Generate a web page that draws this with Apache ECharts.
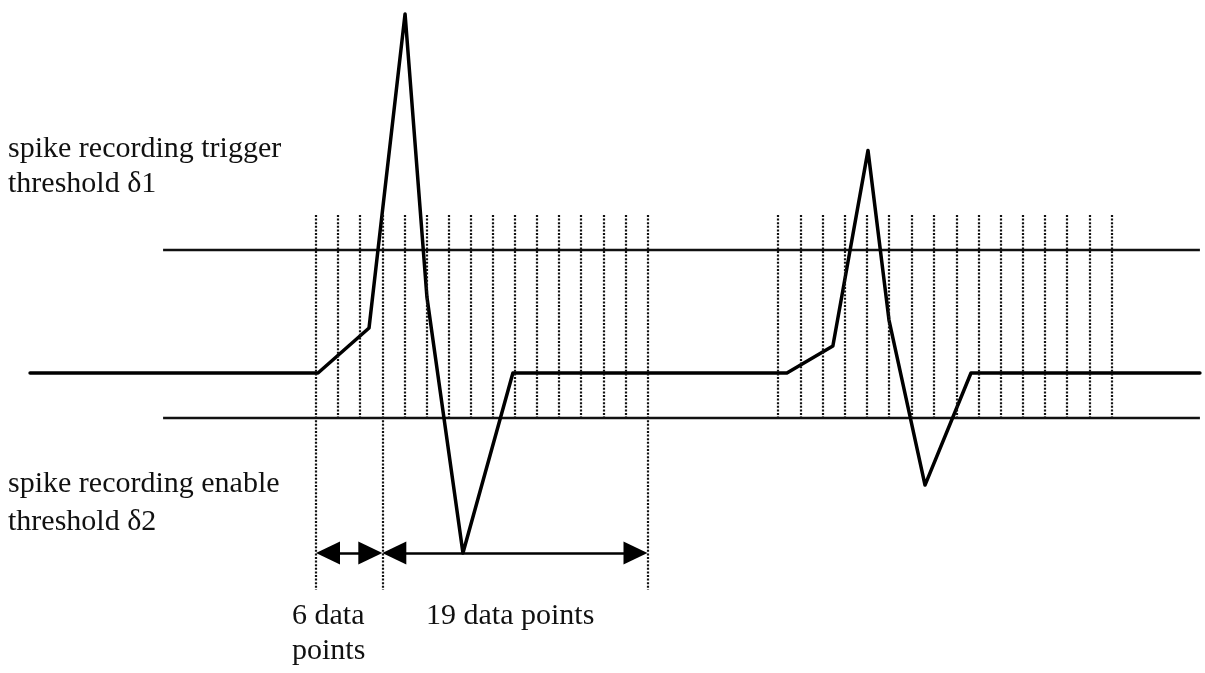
<!DOCTYPE html>
<html>
<head>
<meta charset="utf-8">
<script src="https://cdn.jsdelivr.net/npm/echarts@6/dist/echarts.min.js"></script>
<style>
html,body{margin:0;padding:0;background:#fff;}
#chart{width:1205px;height:673px;}
</style>
</head>
<body>
<div id="chart"></div>
<script>
// ---- data (time in dotted-line units, amplitude in arbitrary units; baseline = 0) ----
const signalT = [-12.94, 0.09, 2.40, 4.03, 5.02, 6.65, 8.91, 21.31, 23.39, 24.98, 25.93, 27.56, 29.64, 40.0];
const signalA = [0, 0, 36.6, 292.0, 61.8, -146.3, 0, 0, 22.0, 181.0, 43.1, -91.1, 0, 0];

const thresholdStart = -6.92;
const thresholdEnd = 40.0;
const delta1 = 100;      // spike recording trigger threshold
const delta2 = -36.6;    // spike recording enable threshold

const gridTop = 128.5;   // top of dotted sample lines
const dottedA = [0, 1, 2, 3, 4, 5, 6, 7, 8, 9, 10, 11, 12, 13, 14, 15];
const dottedB = [20.90, 21.94, 22.94, 23.94, 24.93, 25.93, 26.97, 27.96, 29.00, 30.00, 30.99, 31.99, 32.99, 33.98, 35.02, 36.02];
const extendedLines = [0, 3, 15];
const extendedBottom = -176.4;

const arrowLevel = -146.3;
const arrowSpans = [[0, 3], [3, 15]];

const textLeftTop = ['spike recording trigger', 'threshold \u03b41'];
const textLeftBottom = ['spike recording enable', 'threshold \u03b42'];
const textSix = ['6 data', 'points'];
const textNineteen = ['19 data points'];

// ---- layout ----
const X_MIN = -14.3, X_MAX = 40.23;
const Y_MIN = -243.9, Y_MAX = 303.3;
const pxPerT = 1205 / (X_MAX - X_MIN);
const arrowLen = 24;
const halfArrowT = (arrowLen / 2) / pxPerT;

const signal = signalT.map((t, i) => [t, signalA[i]]);

const dottedData = [];
dottedA.concat(dottedB).forEach(t => {
  const bottom = extendedLines.indexOf(t) >= 0 ? extendedBottom : delta2;
  dottedData.push([{coord: [t, gridTop]}, {coord: [t, bottom]}]);
});

const arrowData = arrowSpans.map(s => [
  {coord: [s[0] + halfArrowT, arrowLevel]},
  {coord: [s[1] - halfArrowT, arrowLevel]}
]);

const FONT = "'Liberation Serif','Times New Roman',serif";
const FS = 30;
function txt(str, x, y) {
  return {type: 'text', left: x, top: y, style: {text: str, fontFamily: FONT, fontSize: FS, fill: '#111'}, silent: true};
}

const chart = echarts.init(document.getElementById('chart'), null, {renderer: 'canvas'});
chart.setOption({
  backgroundColor: '#ffffff',
  animation: false,
  grid: {left: 0, right: 0, top: 0, bottom: 0},
  xAxis: {type: 'value', min: X_MIN, max: X_MAX, show: false},
  yAxis: {type: 'value', min: Y_MIN, max: Y_MAX, show: false},
  series: [
    {
      name: 'dotted', type: 'line', data: [], silent: true,
      markLine: {
        silent: true, symbol: 'none', animation: false,
        label: {show: false},
        lineStyle: {color: '#111', width: 2.2, type: [2, 1.6], cap: 'butt'},
        data: dottedData
      }
    },
    {
      name: 'delta1', type: 'line', symbol: 'none', silent: true,
      lineStyle: {color: '#111', width: 2.5},
      data: [[thresholdStart, delta1], [thresholdEnd, delta1]]
    },
    {
      name: 'delta2', type: 'line', symbol: 'none', silent: true,
      lineStyle: {color: '#111', width: 2.5},
      data: [[thresholdStart, delta2], [thresholdEnd, delta2]]
    },
    {
      name: 'arrows', type: 'line', data: [], silent: true,
      markLine: {
        silent: true, animation: false,
        symbol: ['triangle', 'triangle'],
        symbolSize: [23, arrowLen],
        label: {show: false},
        itemStyle: {color: '#000'},
        lineStyle: {color: '#000', width: 2.5, type: 'solid'},
        data: arrowData
      }
    },
    {
      name: 'signal', type: 'line', symbol: 'none', silent: true,
      lineStyle: {color: '#000', width: 3.5, join: 'round', cap: 'round'},
      data: signal
    }
  ],
  graphic: [
    txt(textLeftTop[0], 8, 134),
    txt(textLeftTop[1], 8, 169),
    txt(textLeftBottom[0], 8, 469),
    txt(textLeftBottom[1], 8, 507),
    txt(textSix[0], 292, 601),
    txt(textSix[1], 292, 636),
    txt(textNineteen[0], 426, 601)
  ]
});
</script>
</body>
</html>
